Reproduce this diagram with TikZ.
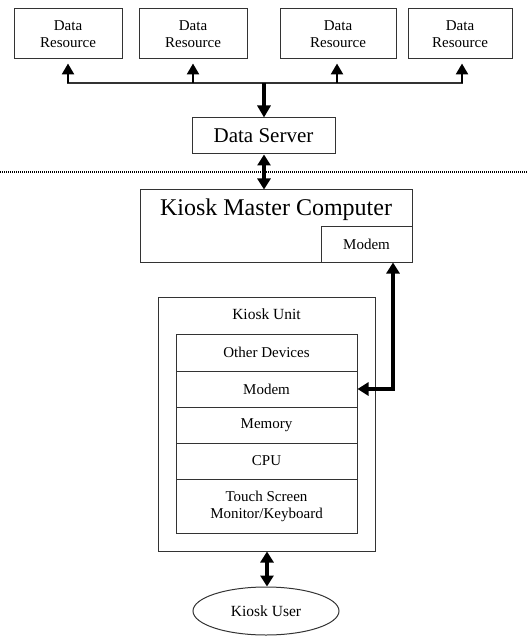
\documentclass[tikz,border=0pt]{standalone}
\usepackage{fontspec}
\setmainfont{Liberation Serif}
\usetikzlibrary{arrows.meta,calc,shapes.geometric}
\begin{document}
\begin{tikzpicture}[x=1pt,y=-1pt,
  box/.style={draw=black!80,line width=1pt,inner sep=0pt,align=center,font=\fontsize{15}{17}\selectfont},
  bigarrow/.style={line width=3.2pt,-{Triangle[width=13pt,length=12pt]}},
  dblarrow/.style={line width=3.2pt,{Triangle[width=13pt,length=11pt]}-{Triangle[width=13pt,length=11pt]}},
  stub/.style={line width=2.5pt,-{Triangle[width=12pt,length=11pt]}}]
\useasboundingbox (0,0) rectangle (528,636);
% data resources
\node[box,minimum width=108pt,minimum height=50pt] (dr1) at (68,34) {Data\\Resource};
\node[box,minimum width=108pt,minimum height=50pt] (dr2) at (193,34) {Data\\Resource};
\node[box,minimum width=116pt,minimum height=50pt] (dr3) at (338,34) {Data\\Resource};
\node[box,minimum width=104pt,minimum height=50pt] (dr4) at (460,34) {Data\\Resource};
\coordinate (bus) at (264,83);
\draw[line width=1.8pt,black!80] ([xshift=-1pt]dr1.south |- bus) -- ([xshift=3pt]dr4.south |- bus);
\draw[stub,shorten >=4pt] (dr1.south |- bus) -- (dr1.south);
\draw[stub,shorten >=4pt] (dr2.south |- bus) -- (dr2.south);
\draw[stub,shorten >=4pt] ([xshift=-1pt]dr3.south |- bus) -- ([xshift=-1pt]dr3.south);
\draw[stub,shorten >=4pt] ([xshift=2pt]dr4.south |- bus) -- ([xshift=2pt]dr4.south);
% data server
\node[box,minimum width=143pt,minimum height=36pt,font=\fontsize{21}{24}\selectfont] (ds) at (263.5,136) {Data Server};
\draw[bigarrow] (bus) -- (bus |- ds.north);
% dotted separator
\draw[line width=2pt,dash pattern=on 1pt off 1pt] (0,172) -- (528,172);
% master computer
\node[box,minimum width=272pt,minimum height=72pt] (mc) at (276,226) {};
\node[font=\fontsize{24}{28}\selectfont,anchor=center] (mct) at (276,210) {Kiosk Master Computer};
\node[box,minimum width=91pt,minimum height=36pt] (mm) at (366.5,244) {Modem};
\draw[dblarrow] (ds.south -| bus) -- (mc.north -| bus);
% kiosk unit
\node[box,minimum width=217pt,minimum height=254pt] (ku) at (266.5,424) {};
\node[font=\fontsize{15.5}{17}\selectfont] (kut) at (266.5,314) {Kiosk Unit};
\node[box,minimum width=181pt,minimum height=37pt] (od) at (266.5,352.5) {Other Devices};
\node[box,minimum width=181pt,minimum height=36pt] (km) at (266.5,389) {Modem};
\node[box,minimum width=181pt,minimum height=36pt] (mem) at (266.5,425) {Memory};
\node[box,minimum width=181pt,minimum height=36pt] (cpu) at (266.5,461) {CPU};
\node[box,minimum width=181pt,minimum height=54pt] (ts) at (266.5,506) {Touch Screen\\Monitor/Keyboard};
\coordinate (mlink) at ([xshift=26.5pt]mm.south);
\draw[dblarrow] (km.east) -| (mlink);
% user
\node[draw=black!80,line width=1pt,ellipse,minimum width=146pt,minimum height=48pt,inner sep=0pt,font=\fontsize{15.5}{17}\selectfont] (ku2) at (266,611) {Kiosk User};
\draw[dblarrow] ([xshift=0.5pt]ku.south) -- ([xshift=0.5pt]ku.south |- ku2.north);
\end{tikzpicture}
\end{document}
